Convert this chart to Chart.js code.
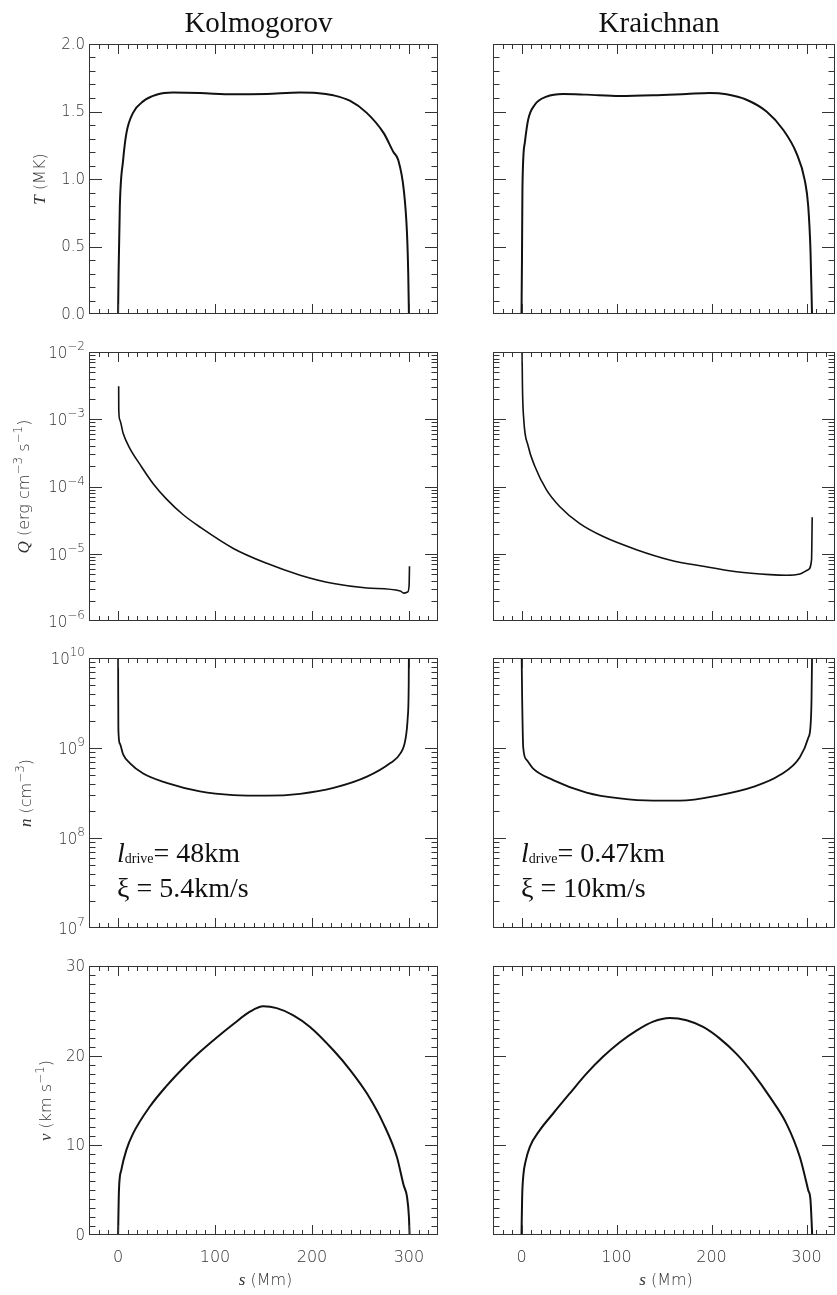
<!DOCTYPE html>
<html>
<head>
<meta charset="utf-8">
<title>Loop profiles: Kolmogorov vs Kraichnan</title>
<script src="https://cdn.jsdelivr.net/npm/chart.js@4.4.1/dist/chart.umd.min.js"></script>
<style>
  body { margin: 0; background: #fff; }
  #page { position: relative; width: 837px; height: 1295px; overflow: hidden; background: #fff; }
  #page canvas { position: absolute; }
</style>
</head>
<body>
<div id="page"></div>
<script>
// s in Mm along the loop

// temperature (MK)
const kolTempS = [0, 0.5, 1.8, 5.2, 8.6, 15.4, 25.8, 39.5, 56.7, 84.3, 118.8, 153, 187.5, 204.8, 222, 239, 256.5, 274, 284, 289, 294.7, 298, 299.3, 300];
const kolTemp  = [0, 0.3, 0.80, 1.14, 1.34, 1.49, 1.575, 1.624, 1.64, 1.637, 1.627, 1.63, 1.64, 1.637, 1.62, 1.58, 1.49, 1.34, 1.20, 1.14, 0.92, 0.60, 0.3, 0];
const krTempS  = [0, 0.5, 1.0, 3.5, 7, 14, 26.3, 43.9, 68.4, 103.5, 138.6, 173.7, 198.2, 215.8, 236.8, 257.9, 275.4, 289.5, 298.2, 301.8, 304.2, 305.8];
const krTemp   = [0, 0.4, 0.94, 1.27, 1.44, 1.55, 1.61, 1.63, 1.625, 1.615, 1.62, 1.63, 1.637, 1.627, 1.587, 1.50, 1.365, 1.19, 0.99, 0.80, 0.47, 0];

// heating rate Q (erg cm^-3 s^-1)
const kolHeatS = [0.6, 0.7, 1.8, 5.2, 12.1, 22.4, 36.2, 50, 67.2, 84.4, 118.9, 153.3, 187.8, 222.2, 256.7, 291.1, 294.6, 298.7, 300.2, 300.6];
const kolHeat  = [3.1e-3, 1.4e-3, 9.8e-4, 6.2e-4, 3.7e-4, 2.15e-4, 1.1e-4, 6.5e-5, 3.8e-5, 2.5e-5, 1.2e-5, 7.2e-6, 4.8e-6, 3.6e-6, 3.1e-6, 2.8e-6, 2.6e-6, 2.7e-6, 3.4e-6, 6.5e-6];
const krHeatS  = [0.3, 0.6, 1.0, 2.4, 7, 14, 26.3, 40.4, 61.4, 86, 121, 156, 191.2, 226.3, 261.4, 279, 293, 301.8, 305.3, 306];
const krHeat   = [2e-2, 1.0e-2, 3.1e-3, 9.8e-4, 4.0e-4, 2.0e-4, 8.9e-5, 5.0e-5, 2.8e-5, 1.8e-5, 1.15e-5, 8.1e-6, 6.5e-6, 5.4e-6, 4.9e-6, 4.8e-6, 5.0e-6, 5.8e-6, 8.1e-6, 3.5e-5];

// density n (cm^-3)
const kolDensS = [0, 0.1, 0.3, 1.8, 5.2, 12.1, 25.9, 50, 84.4, 118.9, 153.3, 187.8, 222.2, 256.7, 280.8, 291.2, 296.3, 298.8, 299.8, 300];
const kolDens  = [1.5e10, 5e9, 1.6e9, 1.12e9, 8.5e8, 6.8e8, 5.2e8, 4.1e8, 3.3e8, 3.0e8, 2.95e8, 3.1e8, 3.6e8, 4.8e8, 6.8e8, 8.7e8, 1.23e9, 2.2e9, 5.2e9, 1.5e10];
const krDensS  = [0, 0.7, 1.8, 5.3, 12.3, 33.3, 68.4, 103.5, 138.6, 166.7, 208.8, 243.9, 272, 293, 301.8, 304.2, 305.3, 306];
const krDens   = [1.5e10, 3.5e9, 1.02e9, 7.4e8, 5.9e8, 4.4e8, 3.2e8, 2.75e8, 2.6e8, 2.6e8, 3.0e8, 3.7e8, 5.0e8, 7.9e8, 1.29e9, 1.74e9, 3.5e9, 1.5e10];

// flow speed v (km/s)
const kolVelS = [0, 0.9, 3.3, 8.5, 15.4, 32.6, 49.8, 67, 84.3, 101.5, 118.7, 136, 149.8, 163.6, 180.8, 198, 222.1, 239.4, 256.6, 273.8, 287.6, 294.5, 298, 300, 300.7];
const kolVel  = [0, 5.0, 7.24, 9.47, 11.3, 14.3, 16.6, 18.6, 20.4, 22.0, 23.5, 24.9, 25.5, 25.3, 24.5, 23.2, 20.6, 18.4, 15.8, 12.4, 8.7, 5.57, 4.27, 2.04, 0];
const krVelS  = [0, 0.7, 1.8, 4.6, 8.8, 19.3, 33.3, 50.9, 68.4, 86, 103.5, 121, 138.6, 156.1, 173.7, 191.2, 208.8, 226.3, 243.9, 261.4, 279, 293, 301.8, 304.2, 306];
const krVel   = [0, 4.27, 6.5, 8.35, 9.84, 11.7, 13.55, 15.8, 18.0, 19.9, 21.5, 22.8, 23.8, 24.2, 23.95, 23.2, 21.9, 20.2, 18.0, 15.4, 12.4, 8.7, 5.0, 3.9, 0];

// tick labels
const sTicks = [0, 100, 200, 300];
const tempTicks = [0.0, 0.5, 1.0, 1.5, 2.0];
const velTicks = [0, 10, 20, 30];
const heatDecades = [-6, -5, -4, -3, -2];
const densDecades = [7, 8, 9, 10];

const columnTitles = ['Kolmogorov', 'Kraichnan'];
const notes = [
  { ldrive: '= 48km', xi: 'ξ = 5.4km/s' },
  { ldrive: '= 0.47km', xi: 'ξ = 10km/s' }
];

// layout of the 2x4 grid (canvas boxes and plot-area padding)
const COLS = [
  { left: 0, width: 450, padL: 89, padR: 12 },
  { left: 450, width: 387, padL: 43, padR: 2 }
];
const ROWS = [
  { top: 0, height: 330, padT: 44, padB: 16 },
  { top: 330, height: 310, padT: 22, padB: 19 },
  { top: 640, height: 305, padT: 18, padB: 17 },
  { top: 945, height: 350, padT: 21, padB: 60 }
];

const INK = '#333';
const TICK_FONT = '200 15px "DejaVu Sans", sans-serif';
const XTICK_FONT = '200 16px "DejaVu Sans", sans-serif';
const SUP_FONT = '200 12px "DejaVu Sans", sans-serif';
const LBL_FONT = '200 16px "DejaVu Sans", sans-serif';
const VAR_FONT = 'italic 17px "Liberation Serif", serif';
const SERIF = '"Liberation Serif", "Times New Roman", serif';

function drawRich(ctx, parts, x, y, opt) {
  opt = opt || {};
  let w = 0;
  parts.forEach(p => { ctx.font = p.font; w += ctx.measureText(p.t).width; });
  ctx.save();
  ctx.translate(x, y);
  if (opt.rotate) ctx.rotate(-Math.PI / 2);
  let cx = opt.align === 'left' ? 0 : opt.align === 'right' ? -w : -w / 2;
  ctx.textAlign = 'left';
  ctx.textBaseline = opt.baseline || 'middle';
  parts.forEach(p => {
    ctx.font = p.font;
    ctx.fillText(p.t, cx, p.dy || 0);
    cx += ctx.measureText(p.t).width;
  });
  ctx.restore();
}

function yTickList(y) {
  const out = [];
  if (y.log) {
    const d0 = y.decades[0], d1 = y.decades[y.decades.length - 1];
    for (let d = d0; d <= d1; d++) {
      out.push({ v: Math.pow(10, d), major: true });
      if (d < d1) for (let k = 2; k <= 9; k++) out.push({ v: k * Math.pow(10, d), major: false });
    }
  } else {
    const n = Math.round((y.max - y.min) / y.minor);
    const every = Math.round(y.major / y.minor);
    for (let i = 0; i <= n; i++) out.push({ v: y.min + i * y.minor, major: i % every === 0 });
  }
  return out;
}

function expText(d) {
  return d < 0 ? '\u2212' + (-d) : String(d);
}

// IDL-style box: inward ticks on all four sides, labels on left/bottom
const idlFrame = {
  id: 'idlFrame',
  afterDraw(chart, args, o) {
    const { ctx, chartArea: a } = chart;
    const xs = chart.scales.x, ys = chart.scales.y;
    ctx.save();
    ctx.strokeStyle = INK;
    ctx.lineWidth = 1;
    ctx.strokeRect(a.left + 0.5, a.top + 0.5, a.width - 1, a.height - 1);
    ctx.beginPath();
    for (let v = -20; v <= 320; v += 10) {
      const px = Math.round(xs.getPixelForValue(v)) + 0.5;
      const len = v % 100 === 0 ? 10 : 5;
      ctx.moveTo(px, a.bottom); ctx.lineTo(px, a.bottom - len);
      ctx.moveTo(px, a.top); ctx.lineTo(px, a.top + len);
    }
    yTickList(o.y).forEach(t => {
      const py = Math.round(ys.getPixelForValue(t.v)) + 0.5;
      if (py < a.top + 1 || py > a.bottom - 1) return;
      const len = t.major ? 13 : 6.5;
      ctx.moveTo(a.left, py); ctx.lineTo(a.left + len, py);
      ctx.moveTo(a.right, py); ctx.lineTo(a.right - len, py);
    });
    ctx.stroke();

    ctx.fillStyle = INK;
    if (o.yLabels) {
      if (o.y.log) {
        o.y.decades.forEach(d => {
          const py = ys.getPixelForValue(Math.pow(10, d));
          drawRich(ctx, [
            { t: '10', font: TICK_FONT, dy: 2 },
            { t: expText(d), font: SUP_FONT, dy: -5 }
          ], a.left - 4, py, { align: 'right' });
        });
      } else {
        o.y.labels.forEach(v => {
          const py = ys.getPixelForValue(v);
          ctx.font = TICK_FONT;
          ctx.textAlign = 'right';
          ctx.textBaseline = 'middle';
          ctx.fillText(v.toFixed(o.y.decimals), a.left - 4, py + 1);
        });
      }
      drawRich(ctx, o.yTitle, a.left + o.yTitleDx, (a.top + a.bottom) / 2, { rotate: true });
    }
    if (o.xLabels) {
      ctx.font = XTICK_FONT;
      ctx.textAlign = 'center';
      ctx.textBaseline = 'middle';
      sTicks.forEach(v => ctx.fillText(String(v), xs.getPixelForValue(v), a.bottom + 23));
      drawRich(ctx, [
        { t: 's', font: VAR_FONT },
        { t: ' (Mm)', font: LBL_FONT }
      ], (a.left + a.right) / 2 + 2, a.bottom + 46);
    }
    ctx.fillStyle = '#111';
    if (o.title) {
      ctx.font = '29px ' + SERIF;
      ctx.textAlign = 'center';
      ctx.textBaseline = 'alphabetic';
      ctx.fillText(o.title, (a.left + a.right) / 2 - 5, 32);
    }
    if (o.note) {
      const x0 = a.left + 28;
      drawRich(ctx, [
        { t: 'l', font: 'italic 28px ' + SERIF },
        { t: 'drive', font: '14px ' + SERIF, dy: 1 },
        { t: o.note.ldrive, font: '28px ' + SERIF }
      ], x0, a.top + 204, { align: 'left', baseline: 'alphabetic' });
      drawRich(ctx, [{ t: o.note.xi, font: '28px ' + SERIF }], x0, a.top + 239, { align: 'left', baseline: 'alphabetic' });
    }
    ctx.restore();
  }
};

const page = document.getElementById('page');

function makePanel(col, row, sVals, yVals, yScale, frame, lineWidth) {
  const c = COLS[col], r = ROWS[row];
  const canvas = document.createElement('canvas');
  canvas.width = c.width;
  canvas.height = r.height;
  canvas.style.left = c.left + 'px';
  canvas.style.top = r.top + 'px';
  page.appendChild(canvas);
  return new Chart(canvas, {
    type: 'line',
    data: {
      datasets: [{
        data: sVals.map((s, i) => ({ x: s, y: yVals[i] })),
        borderColor: '#111',
        borderWidth: lineWidth,
        pointRadius: 0,
        fill: false,
        cubicInterpolationMode: 'monotone'
      }]
    },
    options: {
      responsive: false,
      animation: false,
      events: [],
      layout: { padding: { left: c.padL, right: c.padR, top: r.padT, bottom: r.padB } },
      scales: {
        x: { type: 'linear', min: -30, max: 330, display: false },
        y: Object.assign({ display: false }, yScale)
      },
      plugins: {
        legend: { display: false },
        tooltip: { enabled: false },
        idlFrame: frame
      }
    },
    plugins: [idlFrame]
  });
}

const sup = t => ({ t, font: SUP_FONT, dy: -6 });
const txt = t => ({ t, font: LBL_FONT });
const vr = t => ({ t, font: VAR_FONT });

const rowsCfg = [
  {
    scale: { type: 'linear', min: 0, max: 2 },
    y: { log: false, min: 0, max: 2, minor: 0.1, major: 0.5, labels: tempTicks, decimals: 1 },
    title: [vr('T'), txt(' (MK)')], dx: -48,
    data: [[kolTempS, kolTemp], [krTempS, krTemp]], lw: 2
  },
  {
    scale: { type: 'logarithmic', min: 1e-6, max: 1e-2 },
    y: { log: true, decades: heatDecades },
    title: [vr('Q'), txt(' (erg cm'), sup('\u22123'), txt(' s'), sup('\u22121'), txt(')')], dx: -64,
    data: [[kolHeatS, kolHeat], [krHeatS, krHeat]], lw: 1.6
  },
  {
    scale: { type: 'logarithmic', min: 1e7, max: 1e10 },
    y: { log: true, decades: densDecades },
    title: [vr('n'), txt(' (cm'), sup('\u22123'), txt(')')], dx: -62,
    data: [[kolDensS, kolDens], [krDensS, krDens]], lw: 1.8
  },
  {
    scale: { type: 'linear', min: 0, max: 30 },
    y: { log: false, min: 0, max: 30, minor: 1, major: 10, labels: velTicks, decimals: 0 },
    title: [vr('v'), txt(' (km s'), sup('\u22121'), txt(')')], dx: -42,
    data: [[kolVelS, kolVel], [krVelS, krVel]], lw: 2
  }
];

rowsCfg.forEach((rc, row) => {
  [0, 1].forEach(col => {
    makePanel(col, row, rc.data[col][0], rc.data[col][1], rc.scale, {
      y: rc.y,
      yLabels: col === 0,
      yTitle: rc.title,
      yTitleDx: rc.dx,
      xLabels: row === 3,
      title: row === 0 ? columnTitles[col] : null,
      note: row === 2 ? notes[col] : null
    }, rc.lw);
  });
});
</script>
</body>
</html>
